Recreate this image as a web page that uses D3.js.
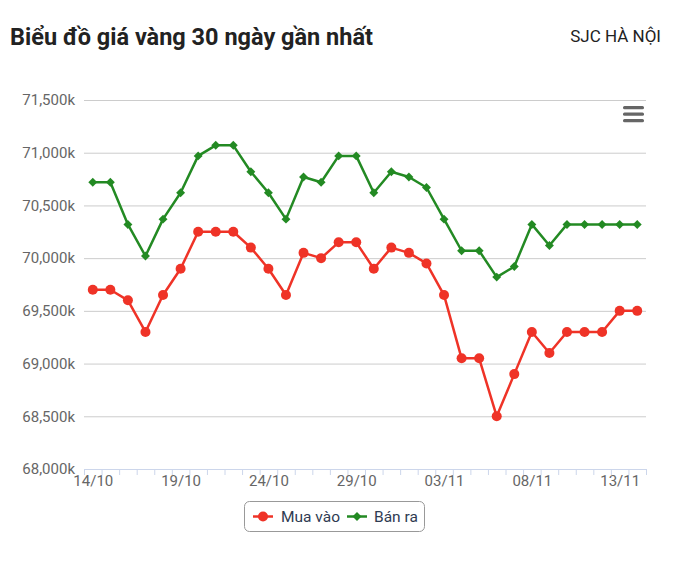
<!DOCTYPE html>
<html lang="vi">
<head>
    <meta charset="UTF-8">
    <title>Biểu đồ giá vàng 30 ngày gần nhất</title>
    <script src="https://d3js.org/d3.v7.min.js"></script>
    <style>
        body { margin: 0; background: #fff; font-family: Roboto, "Noto Sans", sans-serif; }
    </style>
</head>
<body>
    <svg width="682" height="566"></svg>

    <script type="text/javascript">
        // Data
        const dates = ['14/10', '15/10', '16/10', '17/10', '18/10', '19/10', '20/10', '21/10',
            '22/10', '23/10', '24/10', '25/10', '26/10', '27/10', '28/10', '29/10', '30/10',
            '31/10', '01/11', '02/11', '03/11', '04/11', '05/11', '06/11', '07/11', '08/11',
            '09/11', '10/11', '11/11', '12/11', '13/11', '14/11'];
        const buy = [69700, 69700, 69600, 69300, 69650, 69900, 70250, 70250, 70250, 70100,
            69900, 69650, 70050, 70000, 70150, 70150, 69900, 70100, 70050, 69950, 69650,
            69050, 69050, 68500, 68900, 69300, 69100, 69300, 69300, 69300, 69500, 69500];
        const sell = [70720, 70720, 70320, 70020, 70370, 70620, 70970, 71070, 71070, 70820,
            70620, 70370, 70770, 70720, 70970, 70970, 70620, 70820, 70770, 70670, 70370,
            70070, 70070, 69820, 69920, 70320, 70120, 70320, 70320, 70320, 70320, 70320];
        const yTicks = [68000, 68500, 69000, 69500, 70000, 70500, 71000, 71500];
        const xLabelIdx = [0, 5, 10, 15, 20, 25, 30];

        const series = [
            { name: 'Mua vào', values: buy, color: '#ef3327', marker: 'circle' },
            { name: 'Bán ra', values: sell, color: '#238a23', marker: 'diamond' }
        ];

        const margin = { top: 100, left: 84, right: 36, bottom: 97 };
        const width = 682, height = 566;

        const svg = d3.select('svg');

        // Title
        svg.append('text')
            .attr('x', 10).attr('y', 45)
            .attr('font-size', 23.5).attr('font-weight', 'bold')
            .attr('fill', '#222')
            .text('Biểu đồ giá vàng 30 ngày gần nhất');
        svg.append('text')
            .attr('x', 661).attr('y', 42)
            .attr('text-anchor', 'end')
            .attr('font-size', 17).attr('fill', '#222')
            .text('SJC HÀ NỘI');

        const x = d3.scaleLinear()
            .domain([-0.5, dates.length - 0.5])
            .range([margin.left, width - margin.right]);

        const y = d3.scaleLinear()
            .domain([68000, 71500])
            .range([height - margin.bottom, margin.top]);

        // Grid + y labels
        const yAxis = svg.append('g')
            .attr('transform', `translate(${margin.left},0)`)
            .call(d3.axisLeft(y).tickValues(yTicks)
                .tickSize(-(width - margin.left - margin.right))
                .tickPadding(9)
                .tickFormat(d => d3.format(',')(d) + 'k'));
        yAxis.select('.domain').remove();
        yAxis.selectAll('line').attr('stroke', '#cccccc');
        yAxis.selectAll('text')
            .attr('font-size', 15).attr('fill', '#666')
            .attr('font-family', 'Roboto, sans-serif');

        // x axis: ticks on category boundaries, labels every 5 days
        const bottom = height - margin.bottom;
        const xTicks = svg.append('g')
            .attr('transform', `translate(0,${bottom})`)
            .call(d3.axisBottom(x)
                .tickValues(d3.range(-0.5, dates.length, 1))
                .tickSize(6).tickFormat(''));
        xTicks.selectAll('line, path').attr('stroke', '#ccd6eb');
        xTicks.select('.domain').attr('stroke-width', 1);

        const xLabels = svg.append('g')
            .attr('transform', `translate(0,${bottom})`)
            .call(d3.axisBottom(x).tickValues(xLabelIdx)
                .tickSize(0).tickPadding(6)
                .tickFormat(i => dates[i]));
        xLabels.select('.domain').remove();
        xLabels.selectAll('text')
            .attr('font-size', 15).attr('fill', '#666')
            .attr('font-family', 'Roboto, sans-serif');

        // Lines and markers
        const line = d3.line()
            .x((d, i) => x(i))
            .y(d => y(d));

        series.forEach(s => {
            svg.append('path')
                .datum(s.values)
                .attr('fill', 'none')
                .attr('stroke', s.color)
                .attr('stroke-width', 2.5)
                .attr('stroke-linejoin', 'round')
                .attr('d', line);

            const sym = s.marker === 'circle'
                ? d3.symbol().type(d3.symbolCircle).size(Math.PI * 25)
                : d3.symbol().type(d3.symbolSquare).size(40);

            svg.append('g').selectAll('path')
                .data(s.values)
                .join('path')
                .attr('d', sym)
                .attr('fill', s.color)
                .attr('transform', (d, i) => `translate(${x(i)},${y(d)})` +
                    (s.marker === 'diamond' ? ' rotate(45)' : ''));
        });

        // Export menu icon
        const menu = svg.append('g').attr('transform', 'translate(623,106)');
        [0, 6.5, 13].forEach(dy => {
            menu.append('rect')
                .attr('x', 0).attr('y', dy)
                .attr('width', 21).attr('height', 3.2)
                .attr('rx', 1.5)
                .attr('fill', '#666');
        });

        // Legend
        const legend = svg.append('g');
        legend.append('rect')
            .attr('x', 244.5).attr('y', 501.5)
            .attr('width', 180).attr('height', 30)
            .attr('rx', 5)
            .attr('fill', '#fff')
            .attr('stroke', '#999');

        const legendPos = [{ lx: 253, tx: 281 }, { lx: 347, tx: 374 }];
        series.forEach((s, k) => {
            const p = legendPos[k];
            const g = legend.append('g');
            g.append('line')
                .attr('x1', p.lx).attr('x2', p.lx + 20)
                .attr('y1', 516.5).attr('y2', 516.5)
                .attr('stroke', s.color).attr('stroke-width', 2.5);
            const sym = s.marker === 'circle'
                ? d3.symbol().type(d3.symbolCircle).size(Math.PI * 25)
                : d3.symbol().type(d3.symbolSquare).size(40);
            g.append('path')
                .attr('d', sym)
                .attr('fill', s.color)
                .attr('transform', `translate(${p.lx + 10},516.5)` +
                    (s.marker === 'diamond' ? ' rotate(45)' : ''));
            g.append('text')
                .attr('x', p.tx).attr('y', 522)
                .attr('font-size', 15.5).attr('fill', '#2f3b52')
                .text(s.name);
        });
    </script>
</body>
</html>
